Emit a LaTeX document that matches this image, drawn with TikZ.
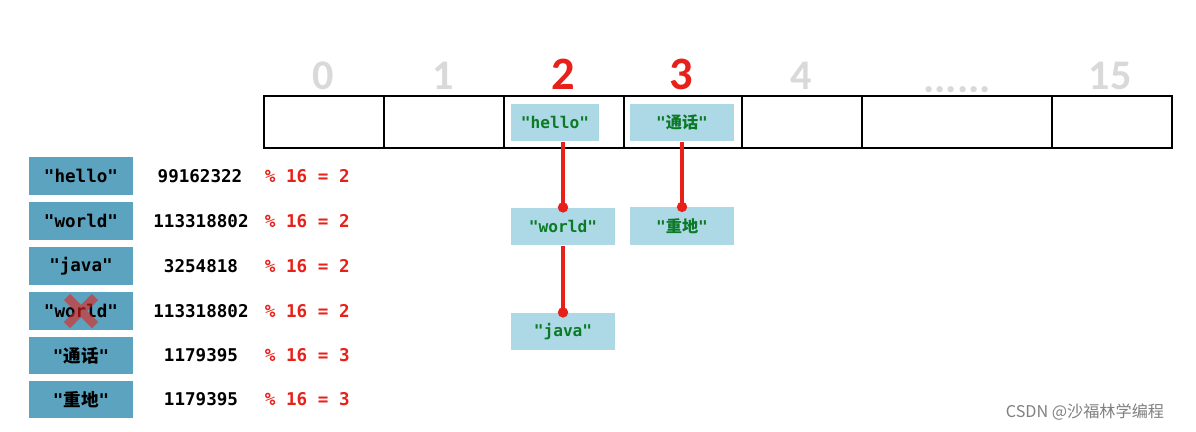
\documentclass[tikz,border=0pt]{standalone}
\usepackage{fontspec}
\setmainfont{Carlito}
\setmonofont{DejaVu Sans Mono}
\newfontfamily\cjk{Noto Sans CJK SC}
\newfontfamily\idxfont{Carlito}
\usetikzlibrary{positioning}
\definecolor{lightbox}{HTML}{ADD8E6}
\definecolor{keyblue}{HTML}{5BA3BE}
\definecolor{hred}{HTML}{E8201A}
\definecolor{dgreen}{HTML}{0B7A26}
\definecolor{idxgray}{HTML}{D9D9D9}
\newcommand{\cq}[1]{{\ttfamily\bfseries "}{\cjk\bfseries #1}{\ttfamily\bfseries "}}
\tikzset{
  cell/.style={draw=black, line width=2pt, minimum height=13mm, inner sep=0, anchor=center},
  idxg/.style={font=\idxfont\bfseries\fontsize{30}{30}\selectfont, text=idxgray},
  idxr/.style={font=\idxfont\bfseries\fontsize{33}{33}\selectfont, text=hred},
  chainbox/.style={fill=lightbox, minimum height=9.4mm, inner sep=0, text=dgreen,
    font=\ttfamily\bfseries\fontsize{11.5}{12}\selectfont},
  keybox/.style={fill=keyblue, minimum width=26mm, minimum height=9.4mm, inner sep=0, text=black,
    font=\ttfamily\bfseries\fontsize{12.5}{13}\selectfont},
  hashtext/.style={font=\ttfamily\bfseries\fontsize{12.5}{13}\selectfont, text=black},
  modtext/.style={font=\ttfamily\bfseries\fontsize{12.5}{13}\selectfont, text=hred, anchor=west},
  chain/.style={draw=hred, line width=2.3pt},
  chaindot/.style={fill=hred},
}
\begin{document}
\begin{tikzpicture}[x=0.25mm,y=-0.25mm]
\useasboundingbox (0,0) rectangle (1196,431);
\fill[white] (0,0) rectangle (1196,431);
% array cells
\node[cell, minimum width=30mm]   (c0)  at (324,122) {};
\node[cell, minimum width=30mm]   (c1)  at (444,122) {};
\node[cell, minimum width=30mm]   (c2)  at (564,122) {};
\node[cell, minimum width=29.5mm] (c3)  at (683,122) {};
\node[cell, minimum width=30mm]   (c4)  at (802,122) {};
\node[cell, minimum width=47.5mm] (c5)  at (957,122) {};
\node[cell, minimum width=30mm]   (c15) at (1112,122) {};
% indices
\node[idxg] (i0)  at (323,76) {0};
\node[idxg] (i1)  at (443,76) {1};
\node[idxr] (i2)  at (563,74) {2};
\node[idxr] (i3)  at (681,74) {3};
\node[idxg] (i4)  at (801,76) {4};
\node[idxg] (i5)  at (957,79) {\vphantom{0}......};
\node[idxg] (i15) at (1110,76) {15};
% chain boxes
\node[chainbox, minimum width=22mm] (hello) at (555,122.5) {"hello"};
\node[chainbox, minimum width=26mm] (tonghua) at (682,122.5) {\cq{通话}};
\node[chainbox, minimum width=26mm] (world) at (563,226.5) {"world"};
\node[chainbox, minimum width=26mm] (zhongdi) at (682,226) {\cq{重地}};
\node[chainbox, minimum width=26mm] (java) at (563,331.5) {"java"};
% connectors
\draw[chain] (world.north |- hello.south) -- (world.north);
\fill[chaindot] (world.north) circle (1.3mm);
\draw[chain] (zhongdi.north |- tonghua.south) -- (zhongdi.north);
\fill[chaindot] (zhongdi.north) circle (1.3mm);
\draw[chain] (world.south) -- (java.north);
\fill[chaindot] (java.north) circle (1.3mm);
% key list
\node[keybox] (k1) at (81,176) {"hello"};
\node[keybox] (k2) at (81,221) {"world"};
\node[keybox] (k3) at (81,266) {"java"};
\node[keybox] (k4) at (81,311) {"world"};
\node[keybox] (k5) at (81,355.5) {\cq{通话}};
\node[keybox] (k6) at (81,399.5) {\cq{重地}};
\node[hashtext] (h1) at (200,176) {99162322};
\node[hashtext] (h2) at (201,221) {113318802};
\node[hashtext] (h3) at (201,266) {3254818};
\node[hashtext] (h4) at (201,311) {113318802};
\node[hashtext] (h5) at (201,355.5) {1179395};
\node[hashtext] (h6) at (201,399.5) {1179395};
\node[modtext] (m1) at (260,176) {\% 16 = 2};
\node[modtext] (m2) at (260,221) {\% 16 = 2};
\node[modtext] (m3) at (260,266) {\% 16 = 2};
\node[modtext] (m4) at (260,311) {\% 16 = 2};
\node[modtext] (m5) at (260,355.5) {\% 16 = 3};
\node[modtext] (m6) at (260,399.5) {\% 16 = 3};
% cross
\draw[hred, opacity=0.6, line width=2.2mm] (67,297) -- (95,325) (95,297) -- (67,325);
% watermark
\node[text=gray, font=\cjk\fontsize{11.5}{12}\selectfont] (wm) at (1085,412) {CSDN @沙福林学编程};
\end{tikzpicture}
\end{document}
